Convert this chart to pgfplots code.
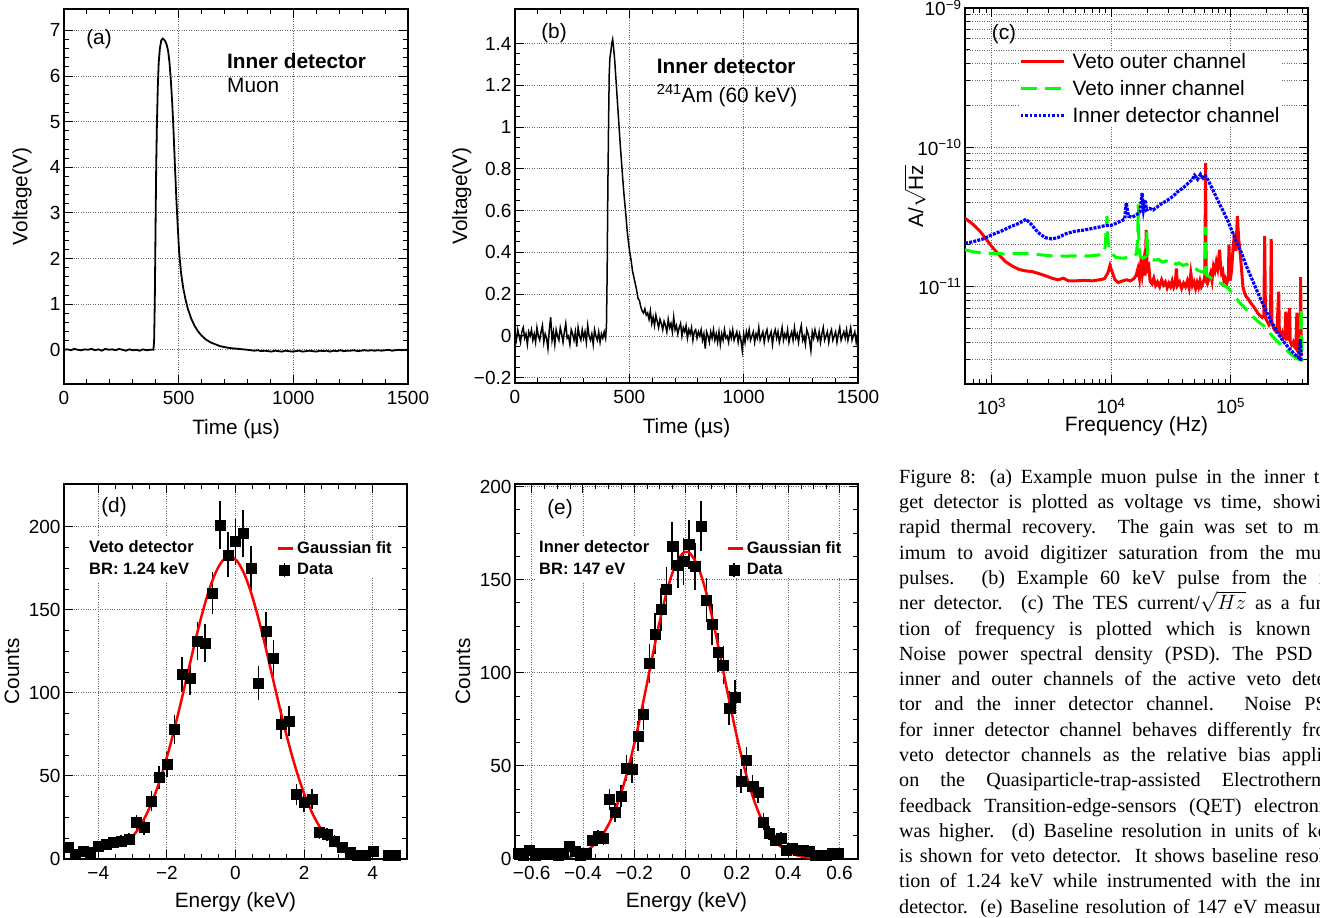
\documentclass[border=0pt]{standalone}
\usepackage{fontspec}
\setmainfont{Liberation Sans}
\newfontfamily\capfont{Liberation Serif}
\usepackage{pgfplots}
\pgfplotsset{compat=1.18}
\newcommand\fA{\fontsize{20.8}{24}\selectfont}
\newcommand\fT{\fontsize{19}{22}\selectfont}
\newcommand\fS{\fontsize{16.5}{19}\selectfont}
\pgfplotsset{rootstyle/.style={
  scale only axis,
  axis line style={line width=1.3pt, black},
  tick align=inside,
  tick pos=both,
  xticklabel pos=lower, yticklabel pos=left,
  major tick length=9pt, minor tick length=5pt,
  every tick/.append style={line width=1pt, black},
  every minor tick/.append style={line width=1pt, black},
  major grid style={dotted, line width=0.9pt, black!60},
  minor grid style={dotted, line width=0.9pt, black!60},
  tick label style={font=\fT},
  xticklabel style={yshift=-4pt},
  label style={font=\fA},
  /pgf/number format/assume math mode=true,
}}
\begin{document}
\begin{tikzpicture}
\useasboundingbox (0,0) rectangle (1320pt,-918pt);
\clip (0,0) rectangle (1320pt,-918pt);

% ---------------- (a)
\begin{axis}[rootstyle, at={(64pt,-384pt)}, anchor=south west, width=344pt, height=375pt,
  xmin=0, xmax=1500, ymin=-0.75, ymax=7.47,
  xtick={0,500,1000,1500}, xticklabels={0,500,1000,1500}, minor x tick num=4,
  ytick={0,1,2,3,4,5,6,7}, yticklabels={0,1,2,3,4,5,6,7}, minor y tick num=4,
  xmajorgrids, ymajorgrids,
  xlabel={Time (µs)}, ylabel={Voltage(V)},
  xlabel style={at={(axis description cs:0.5,-0.12)}, anchor=center},
  ylabel style={at={(axis description cs:-0.122,0.5)}, anchor=center}]
\addplot[black, line width=1.8pt] coordinates {
(0,0.00)(15,0.01)(30,-0.01)(45,0.02)(60,0.00)(75,-0.01)(90,0.01)(105,0.00)(120,0.02)(135,-0.01)(150,0.01)(165,-0.02)(180,0.02)(195,0.00)(210,0.01)(225,-0.01)(240,0.02)(255,0.00)(270,-0.02)(285,0.01)(300,-0.01)(315,0.00)(330,-0.02)(345,0.01)(360,-0.01)(375,0.00)(390,0.00)(393,0.2)(396,1.1)(399,2.6)(402,4.0)(405,4.9)(409,5.76)(413,6.3)(418,6.6)(424,6.78)(430,6.82)(436,6.8)(442,6.76)(448,6.68)(454,6.55)(460,6.3)(466,5.9)(472,5.4)(478,4.75)(484,4.0)(490,3.3)(496,2.7)(502,2.15)(510,1.7)(520,1.35)(530,1.1)(540,0.9)(555,0.68)(570,0.52)(585,0.40)(600,0.31)(620,0.22)(640,0.16)(660,0.12)(680,0.08)(700,0.06)(720,0.04)(740,0.03)(760,0.02)(780,0.01)(800,0.00)(815,-0.01)(830,-0.02)(845,-0.01)(860,-0.03)(875,-0.02)(890,-0.03)(905,-0.04)(920,-0.02)(935,-0.03)(950,-0.04)(965,-0.02)(980,-0.03)(995,-0.04)(1010,-0.03)(1025,-0.02)(1040,-0.04)(1055,-0.03)(1070,-0.02)(1085,-0.03)(1100,-0.04)(1115,-0.02)(1130,-0.03)(1145,-0.02)(1160,-0.04)(1175,-0.02)(1190,-0.03)(1205,-0.01)(1220,-0.03)(1235,-0.02)(1250,-0.02)(1265,-0.01)(1280,-0.03)(1295,-0.02)(1310,-0.01)(1325,-0.02)(1340,-0.01)(1355,-0.02)(1370,-0.01)(1385,-0.02)(1400,-0.01)(1415,0.00)(1430,-0.02)(1445,-0.01)(1460,0.00)(1475,-0.01)(1490,0.00)(1500,-0.01)};
\end{axis}

% ---------------- (b)
\begin{axis}[rootstyle, at={(515pt,-383pt)}, anchor=south west, width=343pt, height=374pt,
  xmin=0, xmax=1500, ymin=-0.225, ymax=1.565,
  xtick={0,500,1000,1500}, xticklabels={0,500,1000,1500}, minor x tick num=4,
  ytick={-0.2,0,0.2,0.4,0.6,0.8,1,1.2,1.4}, yticklabels={−0.2,0,0.2,0.4,0.6,0.8,1,1.2,1.4}, minor y tick num=3,
  xmajorgrids, ymajorgrids,
  xlabel={Time (µs)}, ylabel={Voltage(V)},
  xlabel style={at={(axis description cs:0.5,-0.12)}, anchor=center},
  ylabel style={at={(axis description cs:-0.155,0.5)}, anchor=center}]
\addplot[black, line width=1.5pt] coordinates {
(0,0.01)(6,-0.02)(12,0.03)(18,0.00)(24,-0.03)(30,0.02)(36,0.04)(42,-0.01)(48,0.01)(54,-0.04)(60,0.02)(66,0.00)(72,0.03)(78,-0.02)(84,0.01)(90,-0.03)(96,0.04)(102,0.00)(108,-0.02)(114,0.02)(120,0.05)(126,-0.03)(132,0.01)(138,-0.01)(144,-0.06)(150,0.03)(156,0.09)(162,-0.02)(168,0.02)(174,-0.04)(180,0.03)(186,0.00)(192,-0.02)(198,0.04)(204,0.01)(210,-0.03)(216,0.02)(222,0.06)(228,-0.01)(234,0.00)(240,-0.04)(246,0.03)(252,0.01)(258,-0.02)(264,0.02)(270,-0.05)(276,0.04)(282,0.00)(288,-0.02)(294,0.03)(300,-0.01)(306,0.02)(312,-0.03)(318,0.05)(324,0.00)(330,-0.02)(336,0.01)(342,-0.04)(348,0.03)(354,0.00)(360,-0.02)(366,0.02)(372,-0.03)(378,0.01)(384,-0.01)(390,0.02)(396,-0.01)
(400,0.05)(403,0.3)(406,0.7)(409,1.0)(412,1.25)(415,1.33)(419,1.36)(423,1.40)(427,1.42)(431,1.38)(436,1.32)(442,1.22)(448,1.12)(454,1.02)(460,0.92)(466,0.83)(472,0.74)(478,0.66)(484,0.59)(490,0.51)(496,0.45)(502,0.40)(508,0.36)(514,0.31)(520,0.28)(526,0.25)(532,0.22)(538,0.18)(544,0.17)(550,0.14)(556,0.12)(562,0.11)(568,0.13)(574,0.10)(580,0.11)(586,0.08)(592,0.12)(598,0.06)(604,0.09)(610,0.05)(616,0.10)(622,0.07)(628,0.04)(634,0.08)(640,0.06)(646,0.03)(652,0.07)(658,0.05)(664,0.02)(670,0.08)(676,0.04)(682,0.06)(688,0.02)(694,0.09)(700,0.03)(706,0.05)(712,0.01)(718,0.04)(724,0.06)(730,0.00)(736,0.04)(742,0.02)(748,0.05)(754,-0.01)(760,0.03)(766,0.01)(772,0.04)(778,-0.02)(784,0.02)(790,0.03)(796,-0.01)(802,0.02)(808,0.00)(814,0.03)(820,-0.02)(826,0.01)(832,-0.06)(838,0.02)(844,0.00)(850,-0.03)(856,0.02)(862,-0.01)(868,0.03)(874,-0.02)(880,0.01)(886,-0.03)(892,0.02)(898,-0.04)(904,0.01)(910,-0.02)(916,0.03)(922,-0.01)(928,0.00)(934,-0.03)(940,0.02)(946,-0.01)(952,0.03)(958,-0.02)(964,0.00)(970,0.02)(976,-0.03)(982,0.01)(988,-0.02)(994,-0.07)(1000,0.01)(1006,-0.03)(1012,0.02)(1018,-0.01)(1024,0.03)(1030,-0.02)(1036,0.00)(1042,0.02)(1048,-0.03)(1054,0.01)(1060,-0.01)(1066,0.04)(1072,-0.02)(1078,0.00)(1084,0.02)(1090,-0.03)(1096,0.01)(1102,0.03)(1108,-0.02)(1114,0.00)(1120,0.02)(1126,-0.04)(1132,0.01)(1138,0.03)(1144,-0.01)(1150,0.02)(1156,-0.03)(1162,0.00)(1168,0.04)(1174,-0.02)(1180,0.01)(1186,-0.01)(1192,0.03)(1198,-0.03)(1204,0.00)(1210,0.02)(1216,-0.02)(1222,0.04)(1228,-0.01)(1234,0.01)(1240,-0.03)(1246,0.02)(1252,0.05)(1258,-0.02)(1264,0.00)(1270,-0.04)(1276,0.03)(1282,0.01)(1288,-0.02)(1294,-0.07)(1300,0.02)(1306,-0.01)(1312,0.03)(1318,0.00)(1324,-0.02)(1330,0.02)(1336,-0.03)(1342,0.01)(1348,0.04)(1354,-0.02)(1360,0.00)(1366,0.02)(1372,-0.03)(1378,0.01)(1384,0.03)(1390,-0.02)(1396,0.00)(1402,0.02)(1408,-0.03)(1414,0.01)(1420,0.04)(1426,-0.02)(1432,0.00)(1438,0.02)(1444,-0.01)(1450,0.03)(1456,-0.02)(1462,0.01)(1468,0.04)(1474,-0.02)(1480,0.00)(1486,0.02)(1492,-0.03)(1498,0.01)(1500,0.00)};
\end{axis}

% ---------------- (c)
\begin{axis}[rootstyle, xmode=log, ymode=log, at={(965pt,-384pt)}, anchor=south west, width=343pt, height=376pt,
  xmin=600, xmax=445000, ymin=2e-12, ymax=1e-9,
  xtick={1000,10000,100000}, xticklabels={10\textsuperscript{3},10\textsuperscript{4},10\textsuperscript{5}},
  xticklabel style={yshift=-7pt},
  ytick={1e-11,1e-10,1e-9}, yticklabels={10\textsuperscript{−11},10\textsuperscript{−10},10\textsuperscript{−9}},
  minor xtick={600,700,800,900,2000,3000,4000,5000,6000,7000,8000,9000,20000,30000,40000,50000,60000,70000,80000,90000,200000,300000,400000},
  minor ytick={2e-12,3e-12,4e-12,5e-12,6e-12,7e-12,8e-12,9e-12,2e-11,3e-11,4e-11,5e-11,6e-11,7e-11,8e-11,9e-11,2e-10,3e-10,4e-10,5e-10,6e-10,7e-10,8e-10,9e-10},
  xmajorgrids, ymajorgrids, yminorgrids,
  xlabel={Frequency (Hz)}, ylabel={A/$\sqrt{\mbox{Hz}}$},
  xlabel style={at={(axis description cs:0.5,-0.113)}, anchor=center},
  ylabel style={at={(axis description cs:-0.146,0.5)}, anchor=center},
  legend style={at={(axis description cs:0.157,0.884)}, anchor=north west, draw=none, fill=white, inner sep=0pt, font=\fA, row sep=7.5pt, column sep=6pt, nodes={inner sep=1.5pt}},
  legend image code/.code={\draw[#1] (0pt,0pt)--(43pt,0pt);},
  legend cell align=left]
\addlegendimage{red, line width=3pt}
\addlegendentry{Veto outer channel}
\addlegendimage{green, line width=3pt, dash pattern=on 16pt off 8pt}
\addlegendentry{Veto inner channel}
\addlegendimage{blue, line width=3pt, dash pattern=on 2.5pt off 2pt}
\addlegendentry{Inner detector channel}
\addplot[red, line width=3pt, forget plot] coordinates {
(600,3.1e-11)(700,2.8e-11)(800,2.5e-11)(900,2.2e-11)(1000,1.95e-11)(1150,1.7e-11)(1300,1.52e-11)(1500,1.4e-11)(1700,1.33e-11)(1900,1.30e-11)(2200,1.28e-11)(2500,1.24e-11)(2800,1.2e-11)(3200,1.15e-11)(3600,1.12e-11)(4000,1.15e-11)(4400,1.10e-11)(5000,1.10e-11)(6000,1.11e-11)(7000,1.10e-11)(8000,1.12e-11)(8800,1.14e-11)(9400,1.25e-11)(9800,1.42e-11)(10200,1.28e-11)(10800,1.12e-11)(11500,1.07e-11)(12500,1.10e-11)(13500,1.12e-11)(14500,1.10e-11)(15500,1.14e-11)(16200,1.2e-11)(16800,1.35e-11)(17300,1.15e-11)(17900,1.6e-11)(18300,1.25e-11)(18800,1.5e-11)(19300,1.2e-11)(19700,2.55e-11)(20100,1.25e-11)(20600,1.5e-11)(21200,1.1e-11)(22000,1.05e-11)(22800,1.15e-11)(23600,1.02e-11)(24500,1.08e-11)(25500,1.0e-11)(26500,1.12e-11)(27500,1.03e-11)(28500,1.08e-11)(29500,0.98e-11)(30500,1.06e-11)(31500,1.0e-11)(32500,1.1e-11)(33500,0.99e-11)(34500,1.05e-11)(35200,1.35e-11)(36000,1.02e-11)(37500,1.08e-11)(39000,0.97e-11)(40500,1.06e-11)(42000,1.0e-11)(43500,1.1e-11)(45000,0.98e-11)(46500,1.25e-11)(48000,1.02e-11)(49500,1.08e-11)(51000,0.97e-11)(52500,1.07e-11)(54000,0.99e-11)(55500,1.1e-11)(57000,1.0e-11)(58500,1.05e-11)(60000,1.12e-11)(61000,1.2e-11)(61800,7.7e-11)(62500,1.1e-11)(64000,1.05e-11)(66000,1.15e-11)(68000,1.25e-11)(70000,1.1e-11)(72000,1.4e-11)(74000,1.3e-11)(76000,1.5e-11)(78000,1.35e-11)(81000,1.84e-11)(82500,1.4e-11)(84000,1.25e-11)(86000,1.3e-11)(88000,1.1e-11)(90000,1.15e-11)(93000,1.05e-11)(96000,1.2e-11)(97000,2.0e-11)(99000,1.1e-11)(102000,1.3e-11)(105000,1.9e-11)(108000,2.4e-11)(111000,1.8e-11)(114000,3.2e-11)(117000,2.2e-11)(120000,1.8e-11)(123000,1.4e-11)(127000,1.0e-11)(131000,0.9e-11)(135000,0.85e-11)(140000,0.82e-11)(145000,0.78e-11)(150000,0.75e-11)(156000,0.72e-11)(163000,0.68e-11)(170000,0.64e-11)(177000,0.62e-11)(184000,0.6e-11)(190000,0.62e-11)(193000,2.3e-11)(196000,0.6e-11)(203000,0.56e-11)(210000,0.53e-11)(216000,0.55e-11)(219000,2.2e-11)(222000,0.55e-11)(230000,0.5e-11)(238000,0.48e-11)(245000,0.5e-11)(253000,0.92e-11)(256000,0.47e-11)(262000,0.45e-11)(270000,0.47e-11)(278000,0.43e-11)(285000,0.45e-11)(290000,0.66e-11)(295000,0.42e-11)(300000,0.42e-11)(312000,0.7e-11)(316000,0.4e-11)(325000,0.38e-11)(335000,0.4e-11)(344000,0.37e-11)(352000,0.36e-11)(359000,0.65e-11)(364000,0.35e-11)(372000,0.34e-11)(380000,0.33e-11)(386000,1.17e-11)(390000,0.33e-11)(396000,0.32e-11)};
\addplot[green, line width=3pt, dash pattern=on 16pt off 8pt, forget plot] coordinates {
(600,1.84e-11)(700,1.78e-11)(850,1.74e-11)(1000,1.73e-11)(1300,1.72e-11)(1700,1.73e-11)(2200,1.72e-11)(2800,1.68e-11)(3500,1.65e-11)(4500,1.66e-11)(5500,1.67e-11)(6500,1.66e-11)(7500,1.68e-11)(8500,1.70e-11)(8900,1.9e-11)(9100,2.5e-11)(9250,3.2e-11)(9400,2.2e-11)(9700,1.85e-11)(10200,1.72e-11)(11000,1.62e-11)(12500,1.6e-11)(14000,1.62e-11)(15500,1.65e-11)(16300,1.72e-11)(16700,2.2e-11)(16900,3.9e-11)(17100,2.0e-11)(17500,1.65e-11)(18500,1.6e-11)(19700,1.65e-11)(20000,2.5e-11)(20300,1.62e-11)(21500,1.58e-11)(23000,1.55e-11)(25000,1.57e-11)(27000,1.5e-11)(29000,1.53e-11)(31000,1.47e-11)(33000,1.5e-11)(35000,1.45e-11)(37000,1.48e-11)(40000,1.42e-11)(43000,1.45e-11)(46000,1.38e-11)(50000,1.36e-11)(54000,1.3e-11)(58000,1.28e-11)(61000,1.26e-11)(61800,2.7e-11)(62500,1.22e-11)(66000,1.18e-11)(70000,1.14e-11)(75000,1.1e-11)(80000,1.07e-11)(87000,1.03e-11)(95000,0.98e-11)(103000,0.9e-11)(112000,0.82e-11)(122000,0.75e-11)(133000,0.7e-11)(145000,0.64e-11)(160000,0.59e-11)(175000,0.55e-11)(192000,0.52e-11)(210000,0.47e-11)(230000,0.43e-11)(250000,0.4e-11)(275000,0.37e-11)(300000,0.345e-11)(330000,0.32e-11)(360000,0.305e-11)(380000,0.295e-11)(390000,0.7e-11)(396000,0.29e-11)};
\addplot[blue, line width=3.2pt, dash pattern=on 3pt off 1.2pt, forget plot] coordinates {
(600,2.05e-11)(700,2.1e-11)(850,2.2e-11)(1000,2.35e-11)(1200,2.5e-11)(1450,2.7e-11)(1700,2.85e-11)(1950,3.05e-11)(2150,2.8e-11)(2450,2.45e-11)(2800,2.25e-11)(3200,2.2e-11)(3600,2.25e-11)(4200,2.4e-11)(5000,2.5e-11)(6000,2.55e-11)(7000,2.62e-11)(8000,2.68e-11)(9000,2.75e-11)(10000,2.75e-11)(11000,2.85e-11)(12000,2.95e-11)(13000,3.05e-11)(13400,4.0e-11)(14000,3.2e-11)(15000,3.15e-11)(16500,3.3e-11)(17500,3.45e-11)(18200,4.7e-11)(18700,3.6e-11)(19300,4.2e-11)(19800,3.55e-11)(21000,3.65e-11)(22500,3.55e-11)(24000,3.7e-11)(26000,3.9e-11)(28000,4.05e-11)(30000,4.2e-11)(33000,4.45e-11)(36000,4.8e-11)(40000,5.1e-11)(44000,5.5e-11)(48000,5.9e-11)(50000,6.3e-11)(53000,5.9e-11)(56000,6.4e-11)(59000,6.0e-11)(62000,6.2e-11)(65000,5.8e-11)(70000,5.1e-11)(75000,4.5e-11)(80000,4.0e-11)(88000,3.4e-11)(96000,2.9e-11)(105000,2.4e-11)(115000,2.0e-11)(125000,1.7e-11)(135000,1.42e-11)(150000,1.15e-11)(165000,0.95e-11)(180000,0.8e-11)(200000,0.66e-11)(225000,0.54e-11)(250000,0.46e-11)(280000,0.4e-11)(310000,0.36e-11)(340000,0.33e-11)(370000,0.31e-11)(385000,0.42e-11)(390000,0.3e-11)(396000,0.3e-11)};
\end{axis}

% ---------------- (d)
\begin{axis}[rootstyle, at={(64pt,-859pt)}, anchor=south west, width=343pt, height=375pt,
  xmin=-5, xmax=5, ymin=0, ymax=225.7,
  xtick={-4,-2,0,2,4}, xticklabels={−4,−2,0,2,4}, minor x tick num=3,
  ytick={0,50,100,150,200}, yticklabels={0,50,100,150,200}, minor y tick num=3,
  xmajorgrids, ymajorgrids,
  xlabel={Energy (keV)}, ylabel={Counts},
  xlabel style={at={(axis description cs:0.5,-0.115)}, anchor=center},
  ylabel style={at={(axis description cs:-0.152,0.5)}, anchor=center},
  legend style={at={(axis description cs:0.621,0.850)}, anchor=north west, draw=none, fill=white, inner sep=0pt, font=\fS\bfseries, row sep=5pt, column sep=1pt, nodes={inner sep=1.5pt}},
  legend cell align=left]
\addlegendimage{legend image code/.code={\draw[red, line width=2.5pt] (0pt,0pt)--(15pt,0pt);}}
\addlegendentry{Gaussian fit}
\addlegendimage{legend image code/.code={\draw[black, line width=1.6pt] (6pt,-7pt)--(6pt,7pt); \fill[black] (1pt,-5pt) rectangle (11pt,5pt);}}
\addlegendentry{Data}
\addplot[only marks, mark=square*, mark size=5pt, black, forget plot,
  error bars/.cd, y dir=both, y explicit, error mark=none, error bar style={line width=1.6pt, black}]
  table[x=x, y=y, y error=e, row sep=\\] {
x y e\\
-4.889 7 2.65\\ -4.667 3 1.73\\ -4.444 5 2.24\\ -4.222 4 2\\ -4.0 8 2.83\\ -3.778 9 3\\ -3.556 10 3.16\\ -3.333 11 3.32\\ -3.111 12 3.46\\ -2.889 22 4.69\\ -2.667 19 4.36\\ -2.444 35 5.92\\ -2.222 49 7\\ -2.0 57 7.55\\ -1.778 78 8.83\\ -1.556 111 10.54\\ -1.333 109 10.44\\ -1.111 131 11.45\\ -0.889 130 11.40\\ -0.667 160 12.65\\ -0.444 201 14.18\\ -0.222 183 13.53\\ 0 191 13.82\\ 0.222 196 14\\ 0.444 175 13.23\\ 0.667 106 10.30\\ 0.889 137 11.70\\ 1.111 121 11\\ 1.333 81 9\\ 1.556 83 9.11\\ 1.778 39 6.24\\ 2.0 34 5.83\\ 2.222 36 6\\ 2.444 16 4\\ 2.667 15 3.87\\ 2.889 11 3.32\\ 3.111 7 2.65\\ 3.333 4 2\\ 3.556 2 1.41\\ 3.778 2 1.41\\ 4.0 5 2.24\\ 4.444 2 1.41\\ 4.667 2 1.41\\
};
\addplot[red, line width=2.5pt, smooth, forget plot] coordinates {
(-2.97,14.2)(-2.77,20.2)(-2.57,28.0)(-2.37,37.7)(-2.17,49.6)(-1.97,63.5)(-1.77,79.2)(-1.57,96.2)(-1.37,113.9)(-1.17,131.5)(-0.97,147.8)(-0.77,161.9)(-0.57,172.8)(-0.37,179.7)(-0.17,182)(0.03,179.7)(0.23,172.8)(0.43,161.9)(0.63,147.8)(0.83,131.5)(1.03,113.9)(1.23,96.2)(1.43,79.2)(1.63,63.5)(1.83,49.6)(2.03,37.7)(2.23,28.0)(2.43,20.2)(2.63,14.2)(2.83,9.75)(3.03,6.5)};
\end{axis}

% ---------------- (e)
\begin{axis}[rootstyle, at={(515pt,-859pt)}, anchor=south west, width=343pt, height=375pt,
  xmin=-0.665, xmax=0.672, ymin=0, ymax=201.4,
  xtick={-0.6,-0.4,-0.2,0,0.2,0.4,0.6}, xticklabels={−0.6,−0.4,−0.2,0,0.2,0.4,0.6}, minor x tick num=3,
  ytick={0,50,100,150,200}, yticklabels={0,50,100,150,200}, minor y tick num=3,
  xmajorgrids, ymajorgrids,
  xlabel={Energy (keV)}, ylabel={Counts},
  xlabel style={at={(axis description cs:0.5,-0.115)}, anchor=center},
  ylabel style={at={(axis description cs:-0.152,0.5)}, anchor=center},
  legend style={at={(axis description cs:0.617,0.850)}, anchor=north west, draw=none, fill=white, inner sep=0pt, font=\fS\bfseries, row sep=5pt, column sep=1pt, nodes={inner sep=1.5pt}},
  legend cell align=left]
\addlegendimage{legend image code/.code={\draw[red, line width=2.5pt] (0pt,0pt)--(15pt,0pt);}}
\addlegendentry{Gaussian fit}
\addlegendimage{legend image code/.code={\draw[black, line width=1.6pt] (6pt,-7pt)--(6pt,7pt); \fill[black] (1pt,-5pt) rectangle (11pt,5pt);}}
\addlegendentry{Data}
\addplot[only marks, mark=square*, mark size=5pt, black, forget plot,
  error bars/.cd, y dir=both, y explicit, error mark=none, error bar style={line width=1.6pt, black}]
  table[x=x, y=y, y error=e, row sep=\\] {
x y e\\
-0.654 3 1.73\\ -0.632 2 1.41\\ -0.609 5 2.24\\ -0.587 2 1.41\\ -0.565 3 1.73\\ -0.543 3 1.73\\ -0.520 3 1.73\\ -0.498 2 1.41\\ -0.476 3 1.73\\ -0.454 7 2.65\\ -0.431 4 2\\ -0.409 2 1.41\\ -0.387 3 1.73\\ -0.364 10 3.16\\ -0.342 12 3.46\\ -0.320 11 3.32\\ -0.297 32 5.66\\ -0.275 25 5\\ -0.253 34 5.83\\ -0.231 49 7\\ -0.208 48 6.93\\ -0.186 66 8.12\\ -0.164 78 8.83\\ -0.141 105 10.25\\ -0.119 121 11\\ -0.097 134 11.58\\ -0.075 145 12.04\\ -0.052 168 12.96\\ -0.030 158 12.57\\ -0.008 160 12.65\\ 0.014 169 13\\ 0.037 157 12.53\\ 0.059 179 13.38\\ 0.081 139 11.79\\ 0.104 126 11.22\\ 0.126 111 10.54\\ 0.148 104 10.20\\ 0.170 81 9\\ 0.193 87 9.33\\ 0.215 42 6.48\\ 0.237 53 7.28\\ 0.260 39 6.24\\ 0.282 36 6\\ 0.304 20 4.47\\ 0.326 14 3.74\\ 0.349 10 3.16\\ 0.371 11 3.32\\ 0.393 5 2.24\\ 0.415 6 2.45\\ 0.438 5 2.24\\ 0.460 5 2.24\\ 0.482 4 2\\ 0.505 2 1.41\\ 0.527 2 1.41\\ 0.549 2 1.41\\ 0.572 3 1.73\\ 0.594 3 1.73\\
};
\addplot[red, line width=2.5pt, smooth, forget plot] coordinates {
(-0.492,0.49)(-0.462,0.96)(-0.432,1.83)(-0.402,3.34)(-0.372,5.82)(-0.342,9.73)(-0.312,15.6)(-0.282,23.9)(-0.252,35.1)(-0.222,49.5)(-0.192,66.8)(-0.162,86.4)(-0.132,107.0)(-0.102,127.0)(-0.072,144.3)(-0.042,157.2)(-0.012,164.1)(0.003,165)(0.018,164.1)(0.048,157.2)(0.078,144.3)(0.108,127.0)(0.138,107.0)(0.168,86.4)(0.198,66.8)(0.228,49.5)(0.258,35.1)(0.288,23.9)(0.318,15.6)(0.348,9.73)(0.378,5.82)(0.408,3.34)(0.438,1.83)(0.468,0.96)(0.498,0.49)};
\end{axis}

% ---------------- panel texts
\node[font=\fA] at (99pt,-39pt) {(a)};
\node[font=\fA\bfseries, anchor=base west, inner sep=0pt] at (227pt,-68.5pt) {Inner detector};
\node[font=\fA, anchor=base west, inner sep=0pt] at (227pt,-92.7pt) {Muon};
\node[font=\fA] at (554pt,-33pt) {(b)};
\node[font=\fA\bfseries, anchor=base west, inner sep=0pt] at (656.7pt,-73pt) {Inner detector};
\node[font=\fA, anchor=base west, inner sep=0pt] at (656.7pt,-102pt) {\textsuperscript{241}Am (60 keV)};
\node[font=\fA] at (1004pt,-34pt) {(c)};
\node[font=\fA] at (114pt,-507pt) {(d)};
\fill[white] (85pt,-536pt) rectangle (197pt,-582pt);
\node[font=\fS\bfseries, anchor=base west, inner sep=0pt] at (89pt,-552.7pt) {Veto detector};
\node[font=\fS\bfseries, anchor=base west, inner sep=0pt] at (89pt,-574pt) {BR: 1.24 keV};
\node[font=\fA] at (560pt,-509pt) {(e)};
\fill[white] (535pt,-536pt) rectangle (655pt,-582pt);
\node[font=\fS\bfseries, anchor=base west, inner sep=0pt] at (539pt,-552.7pt) {Inner detector};
\node[font=\fS\bfseries, anchor=base west, inner sep=0pt] at (539pt,-574pt) {BR: 147 eV};

% ---------------- caption
\begin{scope}[every node/.style={anchor=base west, inner sep=0pt, font=\capfont\fontsize{20.1}{25.3}\selectfont}]
\node at (899pt,-483.3pt) {\makebox[442pt][s]{Figure 8: (a) Example muon pulse in the inner tar-}};
\node at (899pt,-508.6pt) {\makebox[442pt][s]{get detector is plotted as voltage vs time, showing}};
\node at (899pt,-533.9pt) {\makebox[442pt][s]{rapid thermal recovery. The gain was set to min-}};
\node at (899pt,-559.1pt) {\makebox[442pt][s]{imum to avoid digitizer saturation from the muon}};
\node at (899pt,-584.4pt) {\makebox[442pt][s]{pulses. (b) Example 60 keV pulse from the in-}};
\node at (899pt,-609.7pt) {\makebox[442pt][s]{ner detector. (c) The TES current/$\sqrt{Hz}$ as a func-}};
\node at (899pt,-635.0pt) {\makebox[442pt][s]{tion of frequency is plotted which is known as}};
\node at (899pt,-660.3pt) {\makebox[442pt][s]{Noise power spectral density (PSD). The PSD of}};
\node at (899pt,-685.5pt) {\makebox[442pt][s]{inner and outer channels of the active veto detec-}};
\node at (899pt,-710.8pt) {\makebox[442pt][s]{tor and the inner detector channel. Noise PSD}};
\node at (899pt,-736.1pt) {\makebox[442pt][s]{for inner detector channel behaves differently from}};
\node at (899pt,-761.4pt) {\makebox[442pt][s]{veto detector channels as the relative bias applied}};
\node at (899pt,-786.7pt) {\makebox[442pt][s]{on the Quasiparticle-trap-assisted Electrothermal}};
\node at (899pt,-812.0pt) {\makebox[442pt][s]{feedback Transition-edge-sensors (QET) electronics}};
\node at (899pt,-837.2pt) {\makebox[442pt][s]{was higher. (d) Baseline resolution in units of keV}};
\node at (899pt,-862.5pt) {\makebox[442pt][s]{is shown for veto detector. It shows baseline resolu-}};
\node at (899pt,-887.8pt) {\makebox[442pt][s]{tion of 1.24 keV while instrumented with the inner}};
\node at (899pt,-913.1pt) {\makebox[442pt][s]{detector. (e) Baseline resolution of 147 eV measured}};
\end{scope}
\end{tikzpicture}
\end{document}
